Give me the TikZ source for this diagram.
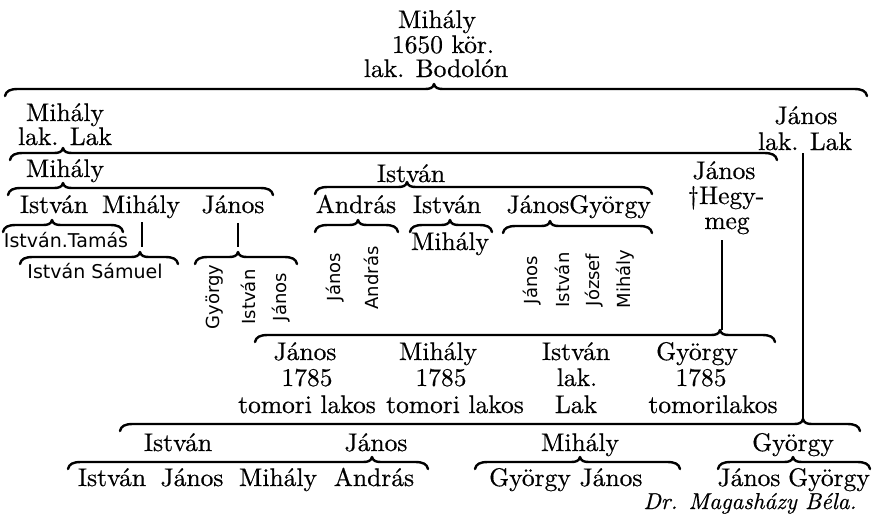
\documentclass[tikz,border=0pt]{standalone}
\usepackage{fontspec}
\setmainfont{lmroman10-regular.otf}[ItalicFont=lmroman10-italic.otf, RawFeature={embolden=0.5}]
\newfontfamily\smallsans{DejaVu Sans}
\newcommand\gbr[4]{\draw[br] (#1,#4+7) .. controls (#1+1,#4+2) and (#1+5,#4) .. (#1+13,#4) -- (#2-9,#4) .. controls (#2-4,#4) and (#2-1,#4-1) .. (#2,#4-5) .. controls (#2+1,#4-1) and (#2+4,#4) .. (#2+9,#4) -- (#3-13,#4) .. controls (#3-5,#4) and (#3-1,#4+2) .. (#3,#4+7);}
\begin{document}
\begin{tikzpicture}[x=1pt,y=-1pt,
  nm/.style={font=\fontsize{25.5}{25.5}\selectfont, inner sep=0pt, anchor=base},
  sm/.style={font=\smallsans\fontsize{19}{19}\selectfont, inner sep=0pt, anchor=base},
  rt/.style={font=\smallsans\fontsize{18}{18}\selectfont, inner sep=0pt, rotate=90},
  br/.style={line width=2.4pt, line cap=round, line join=round},
  vl/.style={line width=1.6pt}]
\useasboundingbox[fill=white] (0,0) rectangle (878,525);
% generation 1
\node[nm] (m1) at (437,28) {Mihály};
\node[nm] (m1b) at (443,53) {1650 kör.};
\node[nm] (m1c) at (436,77) {lak. Bodolón};
\gbr{5}{434}{867}{89}
% generation 2
\node[nm] (m2) at (65,121) {Mihály};
\node[nm] (m2b) at (65,145) {lak. Lak};
\node[nm] (j2) at (806,124) {János};
\node[nm] (j2b) at (805,150) {lak. Lak};
\gbr{10}{63}{777}{153}
\coordinate (c7) at (803,421);
\draw[vl] ([shift={(-2,3)}]j2b.south) -- (c7);
% generation 3
\node[nm] (m3) at (65,177) {Mihály};
\node[nm] (i3) at (411,182) {István};
\node[nm] (j3) at (724,179) {János};
\node[nm] (j3b) at (726,204) {†Hegy-};
\node[nm] (j3c) at (727,229) {meg};
\gbr{8}{63}{273}{188}
\gbr{315}{407}{652}{187}
% generation 4
\node[nm] (i4) at (54,213) {István};
\node[nm] (m4) at (141,213) {Mihály};
\node[nm] (j4) at (233,213) {János};
\node[nm] (a4) at (356,213) {András};
\node[nm] (i4b) at (447,213) {István};
\node[nm] (j4b) at (538,213) {János};
\node[nm] (g4) at (610,213) {György};
\gbr{3}{52}{123}{225}
\gbr{315}{358}{398}{225}
\gbr{410}{450}{492}{225}
\gbr{503}{550}{652}{226}
\coordinate (c5a) at (142,247);
\coordinate (c5b) at (238,247);
\draw[vl] (m4.south -| c5a) ++(0,4) -- (c5a);
\draw[vl] (j4.south -| c5b) ++(0,9) -- (c5b);
% generation 5
\node[sm] (it5) at (66,247) {István.Tamás};
\node[nm] (m5) at (450,250) {Mihály};
\gbr{20}{140}{178}{257}
\gbr{195}{238}{297}{257}
\node[sm] (is6) at (95,278) {István Sámuel};
\node[rt] (g5a) at (215,297) {György};
\node[rt] (i5a) at (248,297) {István};
\node[rt] (j5a) at (281,297) {János};
\node[rt] (j5b) at (335,277) {János};
\node[rt] (a5b) at (371,278) {András};
\node[rt] (j5c) at (532,280) {János};
\node[rt] (i5c) at (562,280) {István};
\node[rt] (jo5c) at (594,280) {József};
\node[rt] (m5c) at (625,279) {Mihály};
% generation 6
\coordinate (c6) at (722,330);
\draw[vl] (j3c.south -| c6) ++(0,6) -- (c6);
\gbr{255}{720}{775}{335}
\node[nm] (j6) at (305,360) {János};
\node[nm] (j6b) at (307,386) {1785};
\node[nm] (j6c) at (307,413) {tomori lakos};
\node[nm] (m6) at (438,360) {Mihály};
\node[nm] (m6b) at (441,386) {1785};
\node[nm] (m6c) at (455,413) {tomori lakos};
\node[nm] (i6) at (576,360) {István};
\node[nm] (i6b) at (577,386) {lak.};
\node[nm] (i6c) at (576,413) {Lak};
\node[nm] (g6) at (697,360) {György};
\node[nm] (g6b) at (701,386) {1785};
\node[nm] (g6c) at (713,413) {tomorilakos};
% generation 7
\gbr{120}{803}{860}{424}
\node[nm] (i7) at (178,451) {István};
\node[nm] (j7) at (376,451) {János};
\node[nm] (m7) at (580,451) {Mihály};
\node[nm] (g7) at (793,451) {György};
\gbr{68}{372}{428}{462}
\gbr{475}{580}{680}{462}
\gbr{718}{793}{870}{462}
% generation 8
\node[nm] (i8) at (112,486) {István};
\node[nm] (j8) at (192,486) {János};
\node[nm] (m8) at (278,486) {Mihály};
\node[nm] (a8) at (374,486) {András};
\node[nm] (g8) at (530,486) {György};
\node[nm] (j8b) at (611,486) {János};
\node[nm] (j8c) at (749,486) {János};
\node[nm] (g8b) at (829,486) {György};
\node[font=\itshape\fontsize{23}{23}\selectfont, inner sep=0pt, anchor=base] (sig) at (750,509) {Dr. Magasházy Béla.};
\end{tikzpicture}
\end{document}
